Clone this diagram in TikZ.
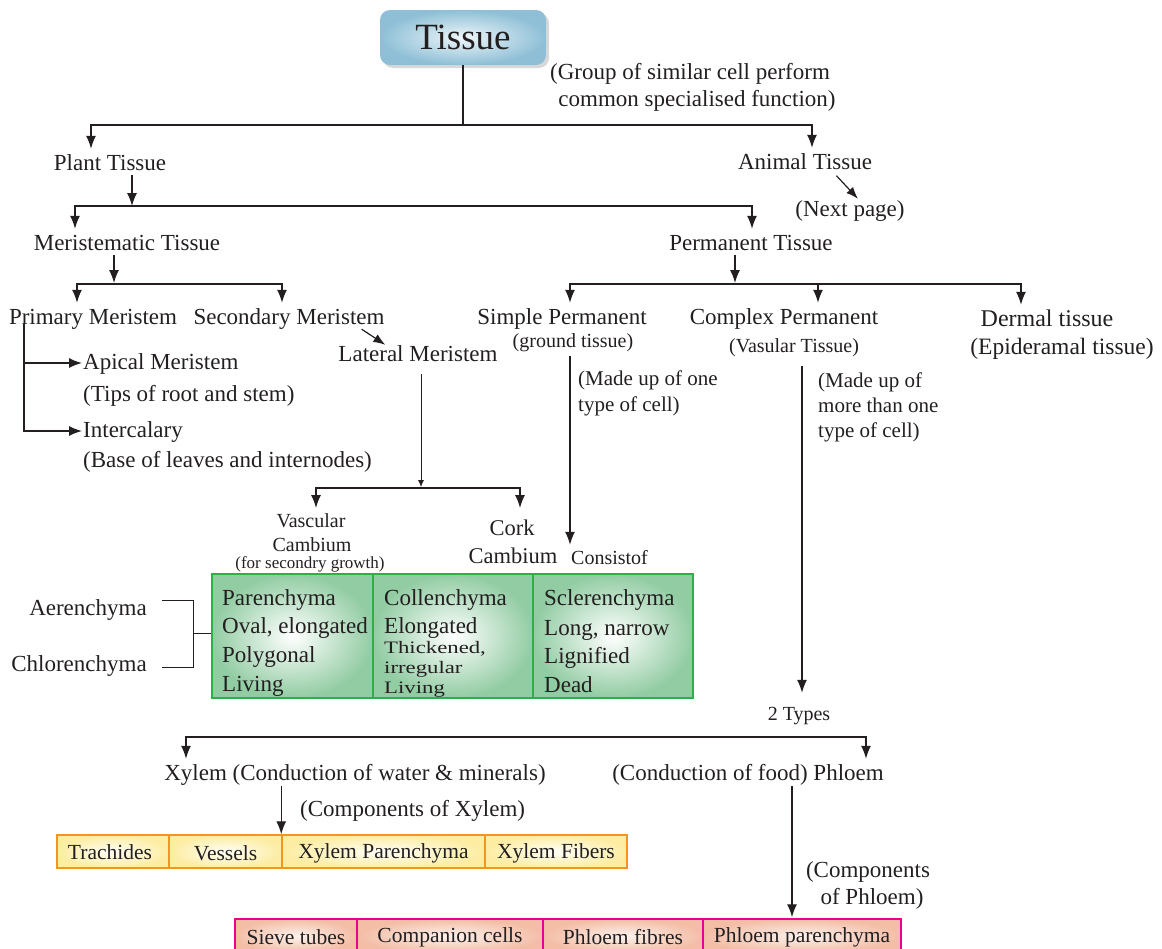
\documentclass[tikz,border=0pt]{standalone}
\usepackage{fontspec}
\setmainfont{Liberation Serif}
\newfontfamily\widefont[FakeStretch=1.3]{Liberation Serif}
\usetikzlibrary{arrows.meta,shadows,calc}
\newcommand\fsz[1]{\fontsize{#1}{#1}\selectfont}
\definecolor{tblue}{HTML}{8EBFD6}
\definecolor{tlight}{HTML}{EEF6F9}
\definecolor{gborder}{HTML}{2EAF4A}
\definecolor{gfill}{HTML}{92CCA3}
\definecolor{yborder}{HTML}{F7941D}
\definecolor{yfill}{HTML}{FCEDA2}
\definecolor{yin}{HTML}{FFFEF6}
\definecolor{pborder}{HTML}{EC008C}
\definecolor{pfill}{HTML}{F3BDA6}
\definecolor{pin}{HTML}{FDF2EC}
\definecolor{ink}{HTML}{231F20}
\tikzset{
 lbl/.style={inner sep=0pt, anchor=base, text=ink, font=\fsz{23}, text height=17pt, text depth=5pt},
 lblw/.style={lbl, anchor=base west},
 ln/.style={draw=ink, line width=1.4pt},
 arr/.style={ln, -{Latex[length=13pt,width=10pt]}, shorten >=4pt},
 arrN/.style={ln, -{Latex[length=13pt,width=10pt]}},
 arr2/.style={ln, {Latex[length=13pt,width=10pt]}-{Latex[length=13pt,width=10pt]}, shorten >=4pt, shorten <=4pt},
 arr2N/.style={ln, {Latex[length=13pt,width=10pt]}-{Latex[length=13pt,width=10pt]}},
 thinarr/.style={draw=ink, line width=0.8pt, -{Latex[length=7pt,width=6pt]}},
 gcell/.style={draw=gborder, line width=1.5pt, inner color=white, outer color=gfill, minimum height=124pt, inner sep=0pt},
 ycell/.style={draw=yborder, line width=1.5pt, inner color=yin, outer color=yfill, minimum height=33pt, inner sep=0pt},
 pcell/.style={draw=pborder, line width=1.5pt, inner color=pin, outer color=pfill, minimum height=34pt, inner sep=0pt},
}
\begin{document}
\begin{tikzpicture}[x=1pt,y=-1pt]
\useasboundingbox (0,0) rectangle (1162,948);

% title
\node[rounded corners=10pt, minimum width=166pt, minimum height=55pt, inner color=tlight, outer color=tblue,
  drop shadow={shadow xshift=3pt, shadow yshift=-3pt, fill=black!30}, font=\fsz{37}, text=ink] (title) at (463,37.5) {Tissue};
\node[lbl] (grp1) at (690,79) {(Group of similar cell perform};
\node[lbl] (grp2) at (697,106) {common specialised function)};

% level 1
\node[lbl] (plant) at (110,170) {Plant Tissue};
\node[lbl] (animal) at (805,169) {Animal Tissue};
\node[lbl] (next) at (850,216) {(Next page)};

\coordinate (b1L) at (91,125);
\coordinate (b1R) at (812,125);
\draw[ln] (title.south) -- (title.south |- b1L);
\draw[arr2] (b1L |- plant.north) -- (b1L) -- (b1R) -- (b1R |- animal.north);
\draw[ln, line width=1.2pt, -{Latex[length=12pt,width=9pt]}, shorten <=2pt] ([xshift=30pt]animal.south) -- ([xshift=8pt]next.north);

% level 2
\node[lbl] (merist) at (127,250) {Meristematic Tissue};
\node[lbl] (perm) at (751,250) {Permanent Tissue};
\coordinate (pA) at (132,206);
\coordinate (b2L) at (75,206);
\coordinate (b2R) at (752,206);
\draw[arrN] (plant.south -| pA) -- (pA);
\draw[arr2] (b2L |- merist.north) -- (b2L) -- (b2R) -- (b2R |- perm.north);

% meristematic branch
\node[lbl] (primary) at (93,324) {Primary Meristem};
\node[lbl] (secondary) at (289,324) {Secondary Meristem};
\node[lbl] (lateral) at (418,361) {Lateral Meristem};
\coordinate (mA) at (114,283);
\coordinate (b3L) at (77,284);
\coordinate (b3R) at (282,284);
\draw[arrN] (merist.south -| mA) -- (mA);
\draw[arr2] (b3L |- primary.north) -- (b3L) -- (b3R) -- (b3R |- secondary.north);
\draw[ln, line width=1.2pt, -{Latex[length=12pt,width=9pt]}] ([xshift=-23pt,yshift=0pt]secondary.south east) -- ([xshift=47pt,yshift=-1pt]lateral.north west);

\node[lblw] (apical) at (83,369) {Apical Meristem};
\node[lblw] (tips) at (83,401) {(Tips of root and stem)};
\node[lblw] (inter) at (83,437) {Intercalary};
\node[lblw] (basel) at (83,467) {(Base of leaves and internodes)};
\coordinate (pv) at (24,432);
\draw[ln] ([yshift=5pt]primary.south -| pv) -- (pv);
\draw[arrN] (apical.west -| pv) -- ([xshift=-1pt]apical.west);
\draw[arrN] (inter.west -| pv) -- ([xshift=-1pt]inter.west);

% lateral -> cambium
\node[lbl, font=\fsz{20}] (vasc1) at (311,527) {Vascular};
\node[lbl, font=\fsz{20}, text depth=2pt] (vasc2) at (312,551) {Cambium};
\node[lbl, font=\fsz{17}, text height=11pt, text depth=4pt] (vasc3) at (310,568) {(for secondry growth)};
\node[lbl, font=\fsz{22.5}] (cork1) at (512,535) {Cork};
\node[lbl, font=\fsz{22.5}] (cork2) at (513,563) {Cambium};
\coordinate (lA) at (421,487);
\coordinate (b4L) at (316,488);
\coordinate (b4R) at (520,488);
\coordinate (vEnd) at (316,508);
\coordinate (cEnd) at (520,508);
\draw[thinarr, shorten <=8pt] (lateral.south -| lA) -- (lA);
\draw[arr2N] (vEnd) -- (b4L) -- (b4R) -- (cEnd);

% permanent branch
\node[lbl] (simple) at (562,324) {Simple Permanent};
\node[lbl, font=\fsz{20}] (ground) at (573,347) {(ground tissue)};
\node[lbl] (complex) at (784,324) {Complex Permanent};
\node[lbl, font=\fsz{20}] (vasular) at (794,352) {(Vasular Tissue)};
\node[lbl, font=\fsz{24}] (dermal) at (1047,326) {Dermal tissue};
\node[lbl, font=\fsz{23.5}] (epid) at (1062,354) {(Epideramal tissue)};
\coordinate (pmA) at (735,283);
\coordinate (b5L) at (570,284);
\coordinate (b5M) at (818,284);
\coordinate (b5R) at (1021,284);
\draw[arrN] (perm.south -| pmA) -- (pmA);
\draw[arr2] (b5L |- simple.north) -- (b5L) -- (b5R) -- (b5R |- dermal.north);
\draw[arr] (b5M) -- (b5M |- complex.north);

\node[lblw, font=\fsz{21}] (one1) at (578,385) {(Made up of one};
\node[lblw, font=\fsz{21}] (one2) at (578,411) {type of cell)};
\node[lblw, font=\fsz{21}] (more1) at (818,387) {(Made up of};
\node[lblw, font=\fsz{21}] (more2) at (818,412) {more than one};
\node[lblw, font=\fsz{21}] (more3) at (818,437) {type of cell)};
\node[lblw, font=\fsz{20}] (consist) at (571,564) {Consistof};
\node[lbl, font=\fsz{20}] (twotypes) at (799,720) {2 Types};

\coordinate (sX) at (570,0);
\coordinate (cX) at (802,0);
\draw[arrN, shorten <=4pt, shorten >=2pt] (ground.south -| sX) -- (sX |- consist.north);
\draw[arrN, shorten <=9pt, shorten >=10pt] (vasular.south -| cX) -- (cX |- twotypes.north);

% green table
\node[gcell, minimum width=161pt] (g1) at (292.5,636) {};
\node[gcell, minimum width=160pt] (g2) at (453,636) {};
\node[gcell, minimum width=160pt] (g3) at (613,636) {};
\node[lblw] (g1a) at (222,605) {Parenchyma};
\node[lblw] (g1b) at (222,633) {Oval, elongated};
\node[lblw] (g1c) at (222,662) {Polygonal};
\node[lblw] (g1d) at (222,691) {Living};
\node[lblw] (g2a) at (384,605) {Collenchyma};
\node[lblw] (g2b) at (384,633) {Elongated};
\node[lblw, font=\widefont\fsz{17.5}, text height=13pt, text depth=4pt] (g2c) at (384,653) {Thickened,};
\node[lblw, font=\widefont\fsz{17.5}, text height=13pt, text depth=4pt] (g2d) at (384,673) {irregular};
\node[lblw, font=\widefont\fsz{17.5}, text height=13pt, text depth=4pt] (g2e) at (384,693) {Living};
\node[lblw] (g3a) at (544,605) {Sclerenchyma};
\node[lblw] (g3b) at (544,635) {Long, narrow};
\node[lblw] (g3c) at (544,663) {Lignified};
\node[lblw] (g3d) at (544,692) {Dead};

% bracket
\node[lbl] (aer) at (88,615) {Aerenchyma};
\node[lbl] (chl) at (79,671) {Chlorenchyma};
\coordinate (aerEnd) at (162,600);
\coordinate (chlEnd) at (162,667);
\coordinate (brT) at (193,600);
\coordinate (brB) at (193,667);
\coordinate (brM) at (193,633);
\draw[draw=ink, line width=1pt] (aerEnd) -- (brT) -- (brB) -- (chlEnd);
\draw[draw=ink, line width=1pt] (brM) -- (g1.west |- brM);

% xylem / phloem
\node[lbl] (xylem) at (355,780) {Xylem (Conduction of water \& minerals)};
\node[lbl] (phloem) at (748,780) {(Conduction of food) Phloem};
\coordinate (b6L) at (186,737);
\coordinate (b6R) at (866,737);
\draw[arr2] (b6L |- xylem.north) -- (b6L) -- (b6R) -- (b6R |- phloem.north);
\node[lblw] (compx) at (300,816) {(Components of Xylem)};
\node[lbl] (compp1) at (868,877) {(Components};
\node[lbl] (compp2) at (872,904) {of Phloem)};

% yellow table
\node[ycell, minimum width=112pt] (y1) at (113,851.5) {};
\node[ycell, minimum width=113pt] (y2) at (225.5,851.5) {};
\node[ycell, minimum width=203pt] (y3) at (383.5,851.5) {};
\node[ycell, minimum width=142pt] (y4) at (556,851.5) {};
\node[lbl, font=\fsz{21.5}] (y1t) at (110,859) {Trachides};
\node[lbl, font=\fsz{21.5}] (y2t) at (225.5,860) {Vessels};
\node[lbl, font=\fsz{21.5}] (y3t) at (383.5,858) {Xylem Parenchyma};
\node[lbl, font=\fsz{21.5}] (y4t) at (556,858) {Xylem Fibers};
\draw[arrN, shorten <=1pt] (xylem.south -| y3.north west) -- (y3.north west);

% pink table
\node[pcell, minimum width=122pt] (p1) at (296,936) {};
\node[pcell, minimum width=186pt] (p2) at (450,936) {};
\node[pcell, minimum width=160pt] (p3) at (623,936) {};
\node[pcell, minimum width=198pt] (p4) at (802,936) {};
\node[lbl, font=\fsz{21.5}] (p1t) at (296,944) {Sieve tubes};
\node[lbl, font=\fsz{21.5}] (p2t) at (450,942) {Companion cells};
\node[lbl, font=\fsz{21.5}] (p3t) at (623,944) {Phloem fibres};
\node[lbl, font=\fsz{21.5}] (p4t) at (802,942) {Phloem parenchyma};
\coordinate (phA) at (792,0);
\draw[arrN, shorten <=1pt, shorten >=1pt] (phloem.south -| phA) -- (phA |- p4.north);
\end{tikzpicture}
\end{document}
